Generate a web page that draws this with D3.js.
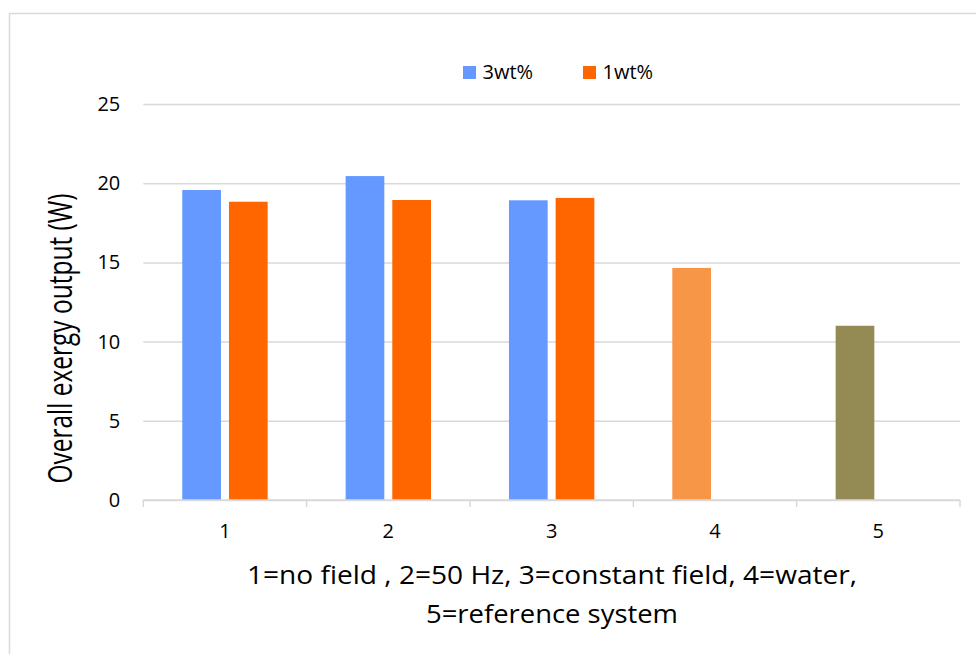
<!DOCTYPE html>
<html>
<head>
<meta charset="utf-8">
<script src="https://cdn.jsdelivr.net/npm/d3@7"></script>
<style>
  html, body { margin: 0; padding: 0; background: #ffffff; }
  svg { display: block; }
  text { font-family: "Open Sans", "Noto Sans", sans-serif; fill: #000000; }
</style>
</head>
<body>
<svg id="chart" width="976" height="654"></svg>
<script>
// Categories along the x axis
const categories = ["1", "2", "3", "4", "5"];
// Series names (legend order)
const seriesNames = ["3wt%", "1wt%"];
// Overall exergy output (W) per series
const values3wt = [19.57, 20.45, 18.92, 14.65, 11.0];
const values1wt = [18.83, 18.94, 19.07, null, null];
// Fill colours: series defaults, plus the individually coloured points 4 and 5
const seriesColors = ["#6699FF", "#FF6600"];
const pointColors3wt = ["#6699FF", "#6699FF", "#6699FF", "#F79646", "#948A54"];
// Axis ticks
const yTicks = [0, 5, 10, 15, 20, 25];
const yTitle = "Overall exergy output (W)";
const xTitleLines = ["1=no field , 2=50 Hz, 3=constant field, 4=water,", "5=reference system"];

const svg = d3.select("#chart");
const grid = "#D9D9D9";

// Outer chart frame
svg.append("rect")
  .attr("x", 9.5).attr("y", 13.5)
  .attr("width", 1000).attr("height", 700)
  .attr("fill", "none").attr("stroke", grid).attr("stroke-width", 1.5);

const plot = { left: 143.3, right: 960, top: 104, bottom: 500 };

const x0 = d3.scaleBand().domain(categories).range([plot.left, plot.right]).padding(0);
const x1 = d3.scaleBand().domain(seriesNames).range([0, x0.bandwidth()])
  .paddingInner(0.171).paddingOuter(0.835);
const y = d3.scaleLinear().domain([0, 25]).range([plot.bottom, plot.top]);

// Horizontal gridlines and y tick labels
const yAxis = d3.axisLeft(y).tickValues(yTicks).tickSize(-(plot.right - plot.left)).tickPadding(23);
const gy = svg.append("g").attr("transform", `translate(${plot.left},0)`).call(yAxis);
gy.select(".domain").remove();
gy.selectAll(".tick line").attr("stroke", grid).attr("stroke-width", 1.5);
gy.selectAll(".tick text")
  .attr("font-size", 20).attr("font-family", "Open Sans, sans-serif").attr("fill", "#000");

// Bars
const rows = categories.map((c, i) => ({
  cat: c,
  bars: [
    { s: seriesNames[0], v: values3wt[i], color: pointColors3wt[i] },
    { s: seriesNames[1], v: values1wt[i], color: seriesColors[1] }
  ].filter(b => b.v != null)
}));

const groups = svg.append("g").selectAll("g").data(rows).join("g")
  .attr("transform", d => `translate(${x0(d.cat)},0)`);
groups.selectAll("rect").data(d => d.bars).join("rect")
  .attr("x", d => x1(d.s))
  .attr("width", x1.bandwidth())
  .attr("y", d => y(d.v))
  .attr("height", d => y(0) - y(d.v))
  .attr("fill", d => d.color);

// Category axis with boundary tick marks
const xAxisG = svg.append("g").attr("transform", `translate(0,${plot.bottom})`);
xAxisG.append("line")
  .attr("x1", plot.left).attr("x2", plot.right)
  .attr("stroke", grid).attr("stroke-width", 1.5);
const boundaries = categories.map(c => x0(c)).concat([x0(categories[categories.length - 1]) + x0.bandwidth()]);
xAxisG.selectAll("line.b").data(boundaries).join("line").attr("class", "b")
  .attr("x1", d => d).attr("x2", d => d).attr("y1", 0).attr("y2", 7)
  .attr("stroke", grid).attr("stroke-width", 1.5);
xAxisG.selectAll("text").data(categories).join("text")
  .attr("x", d => x0(d) + x0.bandwidth() / 2)
  .attr("y", 38)
  .attr("text-anchor", "middle")
  .attr("font-size", 20)
  .text(d => d);

// Y axis title
svg.append("text")
  .attr("transform", "translate(72,338.5) rotate(-90)")
  .attr("text-anchor", "middle")
  .attr("font-size", 33)
  .attr("textLength", 290).attr("lengthAdjust", "spacingAndGlyphs")
  .text(yTitle);

// X axis title (two lines)
const xTitleWidths = [610, 252];
const xTitleBase = [584, 623];
svg.selectAll("text.xt").data(xTitleLines).join("text").attr("class", "xt")
  .attr("x", 552)
  .attr("y", (d, i) => xTitleBase[i])
  .attr("text-anchor", "middle")
  .attr("font-size", 26)
  .attr("textLength", (d, i) => xTitleWidths[i]).attr("lengthAdjust", "spacingAndGlyphs")
  .text(d => d);

// Legend
const legendX = [463, 583];
const legend = svg.append("g").selectAll("g").data(seriesNames).join("g")
  .attr("transform", (d, i) => `translate(${legendX[i]},66)`);
legend.append("rect").attr("width", 13).attr("height", 13)
  .attr("fill", (d, i) => seriesColors[i]);
legend.append("text").attr("x", 19.5).attr("y", 13.3)
  .attr("font-size", 20)
  .text(d => d);
</script>
</body>
</html>
